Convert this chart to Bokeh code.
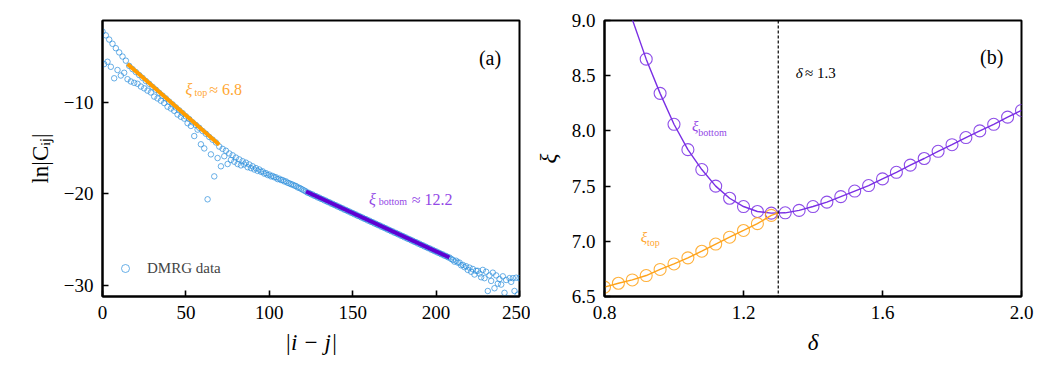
from bokeh.plotting import figure
from bokeh.layouts import row
from bokeh.models import Range1d, FixedTicker, Label, Span, Legend, LegendItem, ColumnDataSource
from bokeh.embed import file_html
from bokeh.resources import INLINE

FONT = "Liberation Serif"

# ---------------- panel (a) data ----------------
dist = list(range(0, 251))
lnC = [
    -2.30, -5.85, -2.72, -5.60, -3.18, -6.15, -3.64, -7.40, -4.12, -6.50,
    -4.58, -7.10, -5.03, -6.80, -5.48, -7.50, -6.05, -7.75, -6.40, -7.90,
    -6.72, -8.00, -7.05, -8.30, -7.36, -8.50, -7.70, -8.75, -8.00, -8.95,
    -8.34, -9.40, -8.65, -9.60, -8.98, -9.85, -9.30, -10.10, -9.60, -10.50,
    -9.95, -10.70, -10.25, -10.95, -10.58, -11.35, -10.90, -11.60, -11.20, -11.80,
    -11.55, -12.30, -11.85, -12.60, -12.20, -13.70, -12.50, -13.00, -12.80, -14.60,
    -13.15, -15.05, -13.45, -20.60, -13.80, -15.70, -14.10, -18.10, -14.40, -16.10,
    -14.85, -17.00, -15.10, -15.90, -15.30, -16.75, -15.60, -16.30, -15.80, -16.50,
    -16.05, -16.75, -16.25, -16.90, -16.45, -16.80, -16.60, -17.10, -16.80, -17.20,
    -17.00, -17.35, -17.20, -17.50, -17.35, -17.60, -17.55, -17.80, -17.75, -17.95,
    -17.90, -18.10, -18.05, -18.20, -18.20, -18.40, -18.35, -18.50, -18.50, -18.65,
    -18.65, -18.80, -18.85, -18.95, -19.00, -19.10, -19.15, -19.30, -19.35, -19.45,
    -19.55, -19.65, -19.75, -19.88, -19.92, -20.05, -20.08, -20.22, -20.25, -20.39,
    -20.42, -20.55, -20.59, -20.72, -20.75, -20.89, -20.92, -21.06, -21.09, -21.22,
    -21.26, -21.39, -21.42, -21.56, -21.59, -21.73, -21.76, -21.89, -21.93, -22.06,
    -22.09, -22.23, -22.26, -22.40, -22.43, -22.56, -22.60, -22.73, -22.76, -22.90,
    -22.93, -23.06, -23.10, -23.23, -23.27, -23.40, -23.43, -23.57, -23.60, -23.73,
    -23.77, -23.90, -23.94, -24.07, -24.10, -24.24, -24.27, -24.40, -24.44, -24.57,
    -24.60, -24.74, -24.77, -24.91, -24.94, -25.07, -25.11, -25.24, -25.27, -25.41,
    -25.44, -25.58, -25.61, -25.74, -25.78, -25.91, -25.94, -26.08, -26.11, -26.25,
    -26.28, -26.41, -26.45, -26.58, -26.61, -26.75, -26.78, -26.91, -26.95, -27.10,
    -27.20, -27.40, -27.30, -27.50, -27.50, -27.80, -27.75, -28.00, -27.90, -28.30,
    -28.05, -28.50, -28.20, -28.80, -28.40, -28.40, -28.70, -29.10, -28.30, -29.20,
    -28.50, -30.60, -28.90, -29.50, -28.60, -30.30, -28.90, -29.80, -29.30, -29.90,
    -29.00, -30.80, -29.40, -31.40, -29.20, -29.60, -29.20, -30.60, -29.15, -31.00,
    -29.20,
]
top_fit_dist = [15, 70]
top_fit_lnC = [-5.84, -14.66]
bottom_fit_dist = [122, 208]
bottom_fit_lnC = [-19.75, -26.95]

# ---------------- panel (b) data ----------------
delta_bottom = [0.92, 0.96, 1.00, 1.04, 1.08, 1.12, 1.16, 1.20, 1.24, 1.28,
                1.32, 1.36, 1.40, 1.44, 1.48, 1.52, 1.56, 1.60, 1.64, 1.68,
                1.72, 1.76, 1.80, 1.84, 1.88, 1.92, 1.96, 2.00]
xi_bottom = [8.65, 8.34, 8.06, 7.83, 7.65, 7.50, 7.39, 7.315, 7.27, 7.255,
             7.258, 7.28, 7.315, 7.355, 7.405, 7.455, 7.505, 7.565, 7.625, 7.69,
             7.75, 7.815, 7.875, 7.94, 8.00, 8.06, 8.125, 8.185]
fit_delta_bottom = [0.88] + delta_bottom
fit_xi_bottom = [9.01] + xi_bottom

delta_top = [0.80, 0.84, 0.88, 0.92, 0.96, 1.00, 1.04, 1.08, 1.12, 1.16, 1.20, 1.24, 1.28]
xi_top = [6.585, 6.62, 6.65, 6.69, 6.745, 6.795, 6.85, 6.91, 6.975, 7.037, 7.098, 7.16, 7.235]
fit_delta_top = delta_top + [1.30]
fit_xi_top = xi_top + [7.258]
delta_c = 1.3

BLUE = "#2e8fdc"
ORANGE_LINE = "#ff9d00"
PURPLE_LINE = "#5e00d2"
ORANGE_TXT = "#ffa733"
PURPLE_TXT = "#9348e6"
PURPLE_B = "#7a2fe4"
ORANGE_B = "#ffa31a"


def style(p, xticks, xlabels, yticks, ylabels):
    p.grid.visible = False
    p.outline_line_color = "black"
    p.outline_line_width = 2
    for ax in (p.xaxis[0], p.yaxis[0]):
        ax.axis_line_width = 2
        ax.major_tick_in = 6
        ax.major_tick_out = 0
        ax.major_tick_line_width = 1.6
        ax.minor_tick_line_color = None
        ax.major_label_text_font = FONT
        ax.major_label_text_font_size = "19px"
        ax.major_label_text_color = "black"
        ax.axis_label_text_font = FONT
        ax.axis_label_text_font_size = "23px"
        ax.axis_label_text_color = "black"
    p.xaxis[0].ticker = FixedTicker(ticks=xticks)
    p.xaxis[0].major_label_overrides = dict(zip(xticks, xlabels))
    p.yaxis[0].ticker = FixedTicker(ticks=yticks)
    p.yaxis[0].major_label_overrides = dict(zip(yticks, ylabels))
    p.xaxis[0].major_label_standoff = 9
    p.yaxis[0].major_label_standoff = 9
    p.xaxis[0].axis_label_standoff = 8
    p.yaxis[0].axis_label_standoff = 8


def add_text(p, x, y, text, size, color, style_="normal", align="left"):
    p.add_layout(Label(x=x, y=y, text=text, text_font=FONT, text_font_size=size,
                       text_color=color, text_font_style=style_, text_align=align,
                       text_baseline="alphabetic"))


# ---------------- panel (a) ----------------
pa = figure(frame_width=417, frame_height=276, min_border_left=102, min_border_right=11,
            min_border_top=20, min_border_bottom=79, output_backend="svg",
            toolbar_location=None, x_range=Range1d(0, 250), y_range=Range1d(-31.2, -1.1))
style(pa, [0, 50, 100, 150, 200, 250], ["0", "50", "100", "150", "200", "250"],
      [-30, -20, -10], ["\u221230", "\u221220", "\u221210"])
pa.xaxis[0].axis_label = "|i \u2212 j|"
pa.xaxis[0].axis_label_text_font_style = "italic"
pa.yaxis[0].axis_label = "ln|C\u1d62\u2c7c|"
pa.yaxis[0].axis_label_text_font_style = "normal"

src_a = ColumnDataSource(dict(d=dist, v=lnC))
sc = pa.scatter("d", "v", source=src_a, marker="circle", size=5.5, fill_color=None,
                line_color=BLUE, line_alpha=0.8, line_width=0.9)
pa.line(top_fit_dist, top_fit_lnC, line_color=ORANGE_LINE, line_width=4)
pa.line(bottom_fit_dist, bottom_fit_lnC, line_color=PURPLE_LINE, line_width=4)

leg = Legend(items=[LegendItem(label="DMRG data", renderers=[sc])], location=(13, 18),
             border_line_color=None, background_fill_alpha=0, label_text_font=FONT,
             label_text_font_size="15px", glyph_width=20, glyph_height=20,
             label_standoff=12, padding=10)
pa.add_layout(leg)

add_text(pa, 49.8, -8.65, "\u03be", "16px", ORANGE_TXT, "italic")
add_text(pa, 55.2, -8.99, "top", "10px", ORANGE_TXT)
add_text(pa, 64.0, -8.65, "\u2248 6.8", "16px", ORANGE_TXT)
add_text(pa, 159.8, -20.57, "\u03be", "16px", PURPLE_TXT, "italic")
add_text(pa, 165.6, -20.88, "bottom", "10px", PURPLE_TXT)
add_text(pa, 185.4, -20.57, "\u2248 12.2", "16px", PURPLE_TXT)
add_text(pa, 239.0, -5.16, "(a)", "20px", "black", align="right")

# ---------------- panel (b) ----------------
pb = figure(frame_width=417, frame_height=276, min_border_left=74, min_border_right=21,
            min_border_top=20, min_border_bottom=79, output_backend="svg",
            toolbar_location=None, x_range=Range1d(0.8, 2.0), y_range=Range1d(6.5, 9.0))
style(pb, [0.8, 1.2, 1.6, 2.0], ["0.8", "1.2", "1.6", "2.0"],
      [6.5, 7.0, 7.5, 8.0, 8.5, 9.0], ["6.5", "7.0", "7.5", "8.0", "8.5", "9.0"])
pb.xaxis[0].axis_label = "\u03b4"
pb.xaxis[0].axis_label_text_font_style = "italic"
pb.yaxis[0].axis_label = "\u03be"
pb.yaxis[0].axis_label_text_font_style = "italic"

pb.line(fit_delta_bottom, fit_xi_bottom, line_color=PURPLE_B, line_width=1.4)
pb.scatter(delta_bottom, xi_bottom, marker="circle", size=12, fill_color=None,
           line_color=PURPLE_B, line_width=1.1, line_alpha=0.85)
pb.line(fit_delta_top, fit_xi_top, line_color=ORANGE_B, line_width=1.4)
pb.scatter(delta_top, xi_top, marker="circle", size=12, fill_color=None,
           line_color=ORANGE_B, line_width=1.1, line_alpha=0.85)
pb.add_layout(Span(location=delta_c, dimension="height", line_color="black",
                   line_width=1.2, line_dash="3 2"))

add_text(pb, 1.35, 8.525, "\u03b4", "15px", "black", "italic")
add_text(pb, 1.377, 8.525, "\u2248 1.3", "15px", "black")
add_text(pb, 1.052, 8.04, "\u03be", "15px", PURPLE_TXT, "italic")
add_text(pb, 1.070, 7.99, "bottom", "10px", PURPLE_TXT)
add_text(pb, 0.904, 7.037, "\u03be", "15px", ORANGE_TXT, "italic")
add_text(pb, 0.922, 6.99, "top", "10px", ORANGE_TXT)
add_text(pb, 1.948, 8.665, "(b)", "20px", "black", align="right")

layout = row(pa, pb)
open("out.html", "w").write(file_html(layout, INLINE))
